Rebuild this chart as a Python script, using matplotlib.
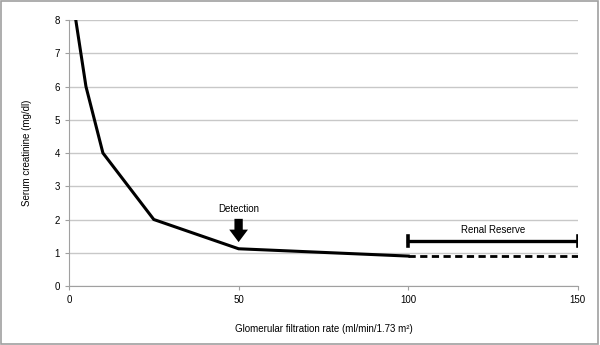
import matplotlib
matplotlib.use('Agg')
import matplotlib.pyplot as plt
from matplotlib.patches import Rectangle

plt.rcParams['font.family'] = ['Liberation Sans', 'DejaVu Sans']

# data
gfr = [2, 5, 10, 25, 50, 100]
creat = [8, 6, 4, 2, 1.12, 0.9]
gfr_dash = [100, 150]
creat_dash = [0.9, 0.9]
reserve_x = [100, 150]
reserve_y = 1.35
detect_x = 50
yticks = [0, 1, 2, 3, 4, 5, 6, 7, 8]
xticks = [0, 50, 100, 150]

fig = plt.figure(figsize=(6, 3.45), dpi=100)
ax = fig.add_axes([0.115, 0.171, 0.848, 0.771])

ax.plot(gfr, creat, color='black', lw=2.2, solid_joinstyle='miter', zorder=3)
ax.plot(gfr_dash, creat_dash, color='black', lw=2, ls=(0, (2.6, 1.6)), zorder=3)

# renal reserve bar
ax.plot(reserve_x, [reserve_y, reserve_y], color='black', lw=2.4, zorder=3)
for xx in reserve_x:
    ax.plot([xx, xx], [reserve_y - 0.15, reserve_y + 0.15], color='black', lw=2.6, zorder=3)
ax.text(125, 1.68, 'Renal Reserve', ha='center', va='center', fontsize=7)

# detection arrow
ax.annotate('', xy=(detect_x, 1.32), xytext=(detect_x, 2.02),
            arrowprops=dict(arrowstyle='simple,head_width=1.35,head_length=0.9,tail_width=0.6',
                            color='black', lw=0, shrinkA=0, shrinkB=0, mutation_scale=10),
            zorder=3)
ax.text(detect_x, 2.32, 'Detection', ha='center', va='center', fontsize=7)

ax.set_xlim(0, 150)
ax.set_ylim(0, 8)
ax.set_xticks(xticks)
ax.set_yticks(yticks)
ax.grid(axis='y', color='#c8c8c8', lw=1)
ax.set_axisbelow(True)
for s in ['top', 'right']:
    ax.spines[s].set_visible(False)
for s in ['left', 'bottom']:
    ax.spines[s].set_color('#a0a0a0')
ax.tick_params(colors='#a0a0a0', labelcolor='black', labelsize=7, length=3)
ax.set_ylabel('Serum creatinine (mg/dl)', fontsize=7, labelpad=16)
ax.set_xlabel('Glomerular filtration rate (ml/min/1.73 m²)', fontsize=7, labelpad=14)

fig.patches.append(Rectangle((0.002, 0.003), 0.995, 0.993, transform=fig.transFigure,
                             fill=False, edgecolor='#a0a0a0', lw=1.2))

fig.savefig('out.png', dpi=100)
